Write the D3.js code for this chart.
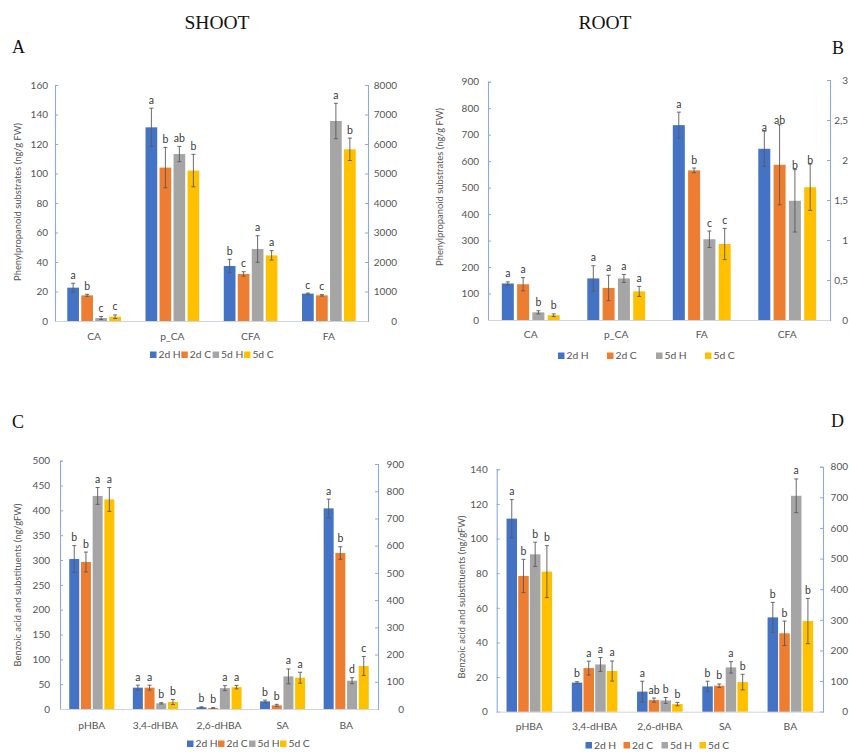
<!DOCTYPE html>
<html>
<head>
<meta charset="utf-8">
<script src="https://cdn.jsdelivr.net/npm/d3@7"></script>
<style>
  html, body { margin: 0; padding: 0; background: #fff; }
  svg { display: block; }
</style>
</head>
<body>
<svg id="fig" width="849" height="752"></svg>
<script>
// Treatments shared by all four panels
const seriesNames = ["2d H", "2d C", "5d H", "5d C"];
const seriesColors = ["#4472C4", "#ED7D31", "#A5A5A5", "#FFC000"];

// A – shoot, phenylpropanoid substrates (FA on secondary axis)
const shootPhenCategories = ["CA", "p_CA", "CFA", "FA"];
const shootPhenSecondary = ["FA"];
const shootPhenValues = [[22.6, 17.4, 2, 2.9], [131.3, 104, 113.2, 102], [37.3, 31.9, 48.8, 44.5], [927, 870, 6780, 5820]];
const shootPhenErrors = [[3, 0.7, 1, 1.2], [13, 13.7, 5.2, 11], [4.5, 1.5, 9, 3.2], [20, 25, 600, 380]];
const shootPhenLetters = [["a", "b", "c", "c"], ["a", "b", "ab", "b"], ["b", "c", "a", "a"], ["c", "c", "a", "b"]];
const shootPhenLeftTicks = [0, 20, 40, 60, 80, 100, 120, 140, 160];
const shootPhenRightTicks = [0, 1000, 2000, 3000, 4000, 5000, 6000, 7000, 8000];

// B – root, phenylpropanoid substrates (CFA on secondary axis)
const rootPhenCategories = ["CA", "p_CA", "FA", "CFA"];
const rootPhenSecondary = ["CFA"];
const rootPhenValues = [[138, 135, 29, 18], [157, 121, 157, 108], [736, 565, 305, 287], [2.14, 1.94, 1.49, 1.66]];
const rootPhenErrors = [[6, 25, 6, 5], [48, 48, 15, 19], [49, 9, 31, 59], [0.22, 0.5, 0.39, 0.29]];
const rootPhenLetters = [["a", "a", "b", "b"], ["a", "a", "a", "a"], ["a", "b", "c", "c"], ["a", "ab", "b", "b"]];
const rootPhenLeftTicks = [0, 100, 200, 300, 400, 500, 600, 700, 800, 900];
const rootPhenRightTicks = [0, 0.5, 1, 1.5, 2, 2.5, 3];

// C – shoot, benzoic acid and substituents (BA on secondary axis)
const shootBenzCategories = ["pHBA", "3,4-dHBA", "2,6-dHBA", "SA", "BA"];
const shootBenzSecondary = ["BA"];
const shootBenzValues = [[302, 296, 429, 422], [43, 43, 11.4, 14], [3.4, 2, 42, 44], [15.4, 7.4, 65.7, 63], [737, 573, 104, 158]];
const shootBenzErrors = [[27, 20, 17, 24], [5, 5, 1.3, 5], [1, 0.7, 5, 3.5], [2.5, 2, 15, 11], [34, 23, 11, 35]];
const shootBenzLetters = [["b", "b", "a", "a"], ["a", "a", "b", "b"], ["b", "b", "a", "a"], ["b", "b", "a", "a"], ["a", "b", "d", "c"]];
const shootBenzLeftTicks = [0, 50, 100, 150, 200, 250, 300, 350, 400, 450, 500];
const shootBenzRightTicks = [0, 100, 200, 300, 400, 500, 600, 700, 800, 900];

// D – root, benzoic acid and substituents (BA on secondary axis)
const rootBenzCategories = ["pHBA", "3,4-dHBA", "2,6-dHBA", "SA", "BA"];
const rootBenzSecondary = ["BA"];
const rootBenzValues = [[111.5, 78.4, 90.9, 80.9], [16.8, 25.2, 27.3, 23.5], [11.6, 6.7, 6.5, 4.4], [14.6, 15, 25.6, 17.1], [308, 256, 705, 296]];
const rootBenzErrors = [[11, 9.6, 7, 15], [0.5, 4, 4, 5.8], [6, 1.2, 1.7, 1], [3, 1, 3.3, 4.5], [49, 40, 55, 74]];
const rootBenzLetters = [["a", "b", "b", "b"], ["b", "a", "a", "a"], ["a", "ab", "b", "b"], ["b", "b", "a", "b"], ["b", "b", "a", "b"]];
const rootBenzLeftTicks = [0, 20, 40, 60, 80, 100, 120, 140];
const rootBenzRightTicks = [0, 100, 200, 300, 400, 500, 600, 700, 800];

const phenTitle = "Phenylpropanoid substrates (ng/g FW)";
const benzTitle = "Benzoic acid and substituents (ng/gFW)";

const svg = d3.select("#fig");
const FONT = "Lato, 'Open Sans', sans-serif";
const SERIF = "'Liberation Serif', 'DejaVu Serif', serif";
const AXIS_BLUE = "#8EAADB";
const TICK_GREY = "#555555";

function drawPanel(p) {
  const g = svg.append("g");
  const x = d3.scaleBand().domain(p.categories).range([p.left, p.right]);
  const yL = d3.scaleLinear().domain([0, d3.max(p.leftTicks)]).range([p.y0, p.yTop]);
  const yR = d3.scaleLinear().domain([0, d3.max(p.rightTicks)]).range([p.y0, p.yTopR]);
  const pad = (p.step - p.barW) / p.step;
  const inner = d3.scaleBand().domain(seriesNames).range([0, 4 * p.step])
    .paddingInner(pad).paddingOuter(pad / 2);

  // left axis
  const axL = g.append("g").attr("transform", `translate(${p.left},0)`)
    .call(d3.axisLeft(yL).tickValues(p.leftTicks).tickSize(-3).tickPadding(p.leftPad));
  // right axis
  const axR = g.append("g").attr("transform", `translate(${p.right},0)`)
    .call(d3.axisRight(yR).tickValues(p.rightTicks).tickSize(-3)
      .tickFormat(p.rightFormat || d3.format("d")));
  axR.selectAll("text").attr("text-anchor", "end").attr("x", p.rightLabelEdge - p.right);
  [axL, axR].forEach(a => {
    a.select(".domain").attr("stroke", AXIS_BLUE).attr("stroke-width", 1.1);
    a.selectAll(".tick line").attr("stroke", AXIS_BLUE);
    a.selectAll("text").attr("fill", TICK_GREY).style("font-family", FONT).style("font-size", "10px");
  });

  // category baseline
  g.append("line").attr("x1", p.left).attr("x2", p.right)
    .attr("y1", p.y0 + 0.5).attr("y2", p.y0 + 0.5)
    .attr("stroke", "#D0D5DD").attr("stroke-width", 1);

  // bars, error bars and significance letters
  const rows = [];
  p.categories.forEach((c, ci) => {
    const yS = p.secondary.includes(c) ? yR : yL;
    seriesNames.forEach((s, si) => {
      rows.push({ c, s, si, v: p.values[ci][si], e: p.errors[ci][si], l: p.letters[ci][si], yS,
        gap: p.secondary.includes(c) ? p.letterGapSecondary : p.letterGap });
    });
  });
  const gx = d => x(d.c) + x.bandwidth() / 2 - 2 * p.step + inner(d.s);
  const cx = d => gx(d) + inner.bandwidth() / 2;

  g.selectAll("rect.bar").data(rows).join("rect").attr("class", "bar")
    .attr("x", gx).attr("width", inner.bandwidth())
    .attr("y", d => d.yS(d.v)).attr("height", d => p.y0 - d.yS(d.v))
    .attr("fill", d => seriesColors[d.si]);

  const eb = g.selectAll("g.err").data(rows).join("g").attr("class", "err")
    .attr("stroke", "#5A5A5A").attr("stroke-width", 0.9);
  eb.append("line").attr("x1", cx).attr("x2", cx)
    .attr("y1", d => d.yS(Math.max(0, d.v - d.e))).attr("y2", d => d.yS(d.v + d.e));
  eb.append("line").attr("x1", d => cx(d) - 2).attr("x2", d => cx(d) + 2)
    .attr("y1", d => d.yS(d.v + d.e)).attr("y2", d => d.yS(d.v + d.e));
  eb.append("line").attr("x1", d => cx(d) - 2).attr("x2", d => cx(d) + 2)
    .attr("y1", d => d.yS(Math.max(0, d.v - d.e))).attr("y2", d => d.yS(Math.max(0, d.v - d.e)));

  g.selectAll("text.sig").data(rows).join("text").attr("class", "sig")
    .attr("x", cx).attr("y", d => d.yS(d.v + d.e) - d.gap)
    .attr("text-anchor", "middle").attr("fill", "#3A3A3A")
    .style("font-family", FONT).style("font-size", "10.5px")
    .text(d => d.l);

  // category labels
  g.selectAll("text.cat").data(p.categories).join("text").attr("class", "cat")
    .attr("x", c => x(c) + x.bandwidth() / 2).attr("y", p.catY)
    .attr("text-anchor", "middle").attr("fill", TICK_GREY)
    .style("font-family", FONT).style("font-size", "10.3px").text(c => c);

  // y-axis title
  g.append("text")
    .attr("transform", `translate(${p.titleX},${p.titleY}) rotate(-90)`)
    .attr("text-anchor", "middle").attr("fill", TICK_GREY)
    .style("font-family", FONT).style("font-size", "9.4px").text(p.title);

  // legend
  const lg = g.selectAll("g.leg").data(seriesNames).join("g").attr("class", "leg")
    .attr("transform", (s, i) => `translate(${p.legX + i * p.legStep},${p.legY})`);
  lg.append("rect").attr("x", 0).attr("y", -6.5).attr("width", 6.5).attr("height", 6.5)
    .attr("fill", (s, i) => seriesColors[i]);
  lg.append("text").attr("x", 8.5).attr("y", 0).attr("fill", TICK_GREY)
    .style("font-family", FONT).style("font-size", "10.3px").text(s => s);
}

drawPanel({
  categories: shootPhenCategories, secondary: shootPhenSecondary,
  values: shootPhenValues, errors: shootPhenErrors, letters: shootPhenLetters,
  leftTicks: shootPhenLeftTicks, rightTicks: shootPhenRightTicks,
  left: 55, right: 368, y0: 321, yTop: 85, yTopR: 85, step: 14, barW: 11.7,
  leftPad: 7, rightLabelEdge: 397, catY: 340, letterGap: 4.5, letterGapSecondary: 4.5,
  title: phenTitle, titleX: 21, titleY: 202,
  legX: 150, legStep: 31.3, legY: 358
});
drawPanel({
  categories: rootPhenCategories, secondary: rootPhenSecondary,
  values: rootPhenValues, errors: rootPhenErrors, letters: rootPhenLetters,
  leftTicks: rootPhenLeftTicks, rightTicks: rootPhenRightTicks,
  rightFormat: v => String(v).replace(".", ","),
  left: 488, right: 830, y0: 320, yTop: 81.7, yTopR: 80, step: 15.3, barW: 12,
  leftPad: 9, rightLabelEdge: 848, catY: 338, letterGap: 4.5, letterGapSecondary: 0.5,
  title: phenTitle, titleX: 443, titleY: 187,
  legX: 558, legStep: 49, legY: 359
});
drawPanel({
  categories: shootBenzCategories, secondary: shootBenzSecondary,
  values: shootBenzValues, errors: shootBenzErrors, letters: shootBenzLetters,
  leftTicks: shootBenzLeftTicks, rightTicks: shootBenzRightTicks,
  left: 60, right: 378, y0: 709, yTop: 460.7, yTopR: 464, step: 11.7, barW: 10,
  leftPad: 10, rightLabelEdge: 404, catY: 729, letterGap: 4.5, letterGapSecondary: 4.5,
  title: benzTitle, titleX: 21, titleY: 585,
  legX: 187, legStep: 31, legY: 747
});
drawPanel({
  categories: rootBenzCategories, secondary: rootBenzSecondary,
  values: rootBenzValues, errors: rootBenzErrors, letters: rootBenzLetters,
  leftTicks: rootBenzLeftTicks, rightTicks: rootBenzRightTicks,
  left: 496.7, right: 823, y0: 711.7, yTop: 469.3, yTopR: 466.7, step: 11.7, barW: 10.5,
  leftPad: 9, rightLabelEdge: 848, catY: 730, letterGap: 4.5, letterGapSecondary: 4.5,
  title: benzTitle, titleX: 465, titleY: 597,
  legX: 585.5, legStep: 38, legY: 748.5
});

// section headings and panel letters
const headings = [
  { t: "SHOOT", x: 217, y: 29, size: 19.5, anchor: "middle" },
  { t: "ROOT", x: 605, y: 29, size: 19.5, anchor: "middle" },
  { t: "A", x: 12, y: 53, size: 18, anchor: "start" },
  { t: "B", x: 832, y: 54, size: 18, anchor: "start" },
  { t: "C", x: 12, y: 428, size: 18, anchor: "start" },
  { t: "D", x: 831, y: 427, size: 18, anchor: "start" }
];
svg.selectAll("text.head").data(headings).join("text").attr("class", "head")
  .attr("x", d => d.x).attr("y", d => d.y).attr("text-anchor", d => d.anchor)
  .attr("fill", "#111").style("font-family", SERIF).style("font-size", d => d.size + "px")
  .text(d => d.t);
</script>
</body>
</html>
